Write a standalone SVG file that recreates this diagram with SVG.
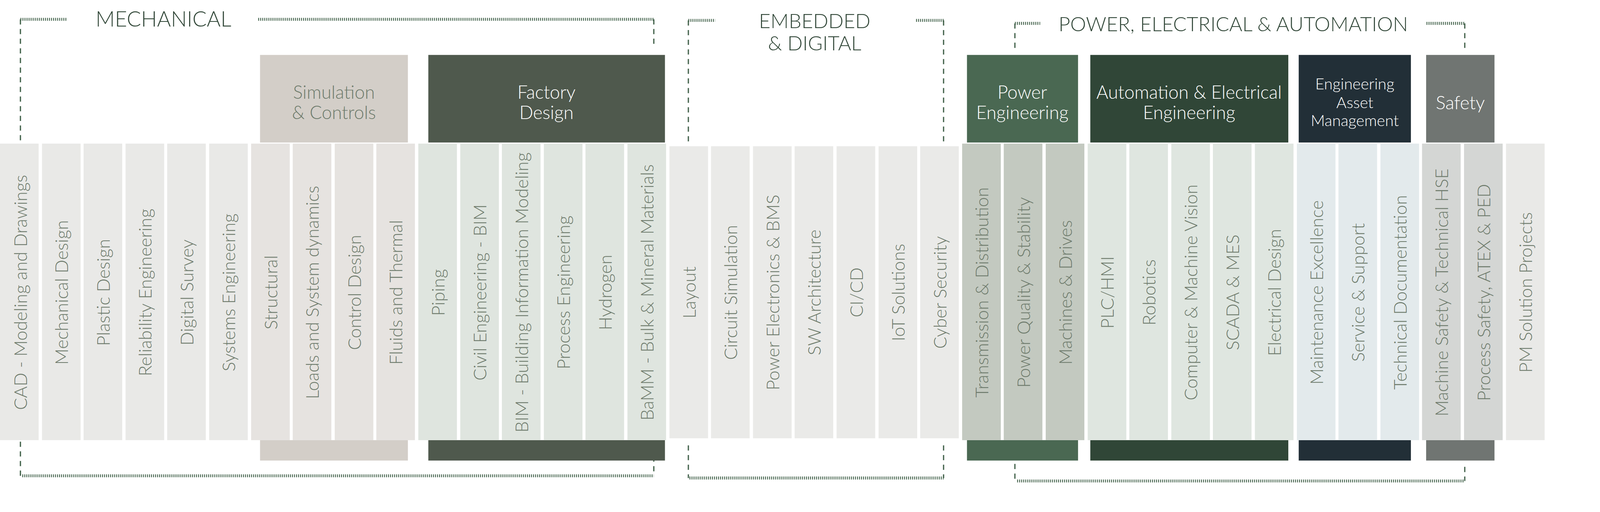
<svg xmlns="http://www.w3.org/2000/svg" width="4262" height="1312" viewBox="0 0 4262 1312">
<style>
.t{font-family:Lato,"Open Sans","Liberation Sans",sans-serif;font-weight:300}
.lbl{font-size:48px;fill:#6d7a6b;text-anchor:middle;dominant-baseline:central}
.hd{font-size:49px;fill:#fff;text-anchor:middle;dominant-baseline:central}
.sec{font-size:54px;fill:#304637;text-anchor:middle;dominant-baseline:central}
.comb{stroke:#4a6852;stroke-width:8;stroke-dasharray:2.5 3;fill:none}
.dash{stroke:#4a6852;stroke-width:3.5;stroke-dasharray:14 12;fill:none}
.mech{fill:#e9e9e7}.sim{fill:#e6e3e0}.fac{fill:#dfe5df}.emb{fill:#eaeae8}.pow{fill:#c3c9c0}.aut{fill:#dfe6e0}.eam{fill:#e3eaec}.saf{fill:#d4d6d4}
</style>
<g transform="scale(0.951)">
<g id="connectors">
<path class="comb" d="M55 52H181M695 52H1760"/>
<path class="dash" d="M55 52V387M1760 52V129"/>
<path class="comb" d="M1853 55H1925M2466 55H2540"/>
<path class="dash" d="M1853 55V387M2540 55V387"/>
<path class="comb" d="M2732 63H2800M3840 63H3943"/>
<path class="dash" d="M2732 63V135M3943 63V135"/>
<path class="comb" d="M60 1282H1760M1856 1288H2540M2738 1296H3940"/>
<path class="dash" d="M55 1190V1282M1760 1230V1282M1853 1200V1288M2540 1200V1288M2732 1250V1296M3943 1258V1296"/>
</g>
<g id="sections" class="t">
<text class="sec" x="440" y="50" style="font-size:57px">MECHANICAL</text>
<text class="sec" x="2193" y="55">EMBEDDED</text>
<text class="sec" x="2193" y="115">&amp; DIGITAL</text>
<text class="sec" x="3320" y="63">POWER, ELECTRICAL &amp; AUTOMATION</text>
</g>
<g id="sim"><rect x="700" y="148" width="398" height="236" fill="#d3cec8"/><rect x="700" y="1186" width="398" height="55" fill="#d3cec8"/>
<text class="t hd" x="899" y="247" style="fill:#6d7a6b">Simulation</text><text class="t hd" x="899" y="302" style="fill:#6d7a6b">&amp; Controls</text></g>
<g id="factory"><rect x="1153" y="148" width="637" height="236" fill="#4f594d"/><rect x="1153" y="1186" width="637" height="55" fill="#4f594d"/>
<text class="t hd" x="1471" y="247">Factory</text><text class="t hd" x="1471" y="302">Design</text></g>
<g id="power"><rect x="2603" y="148" width="299" height="236" fill="#4a6852"/><rect x="2603" y="1186" width="299" height="55" fill="#4a6852"/>
<text class="t hd" x="2752" y="247">Power</text><text class="t hd" x="2752" y="302">Engineering</text></g>
<g id="automation"><rect x="2935" y="148" width="533" height="236" fill="#304637"/><rect x="2935" y="1186" width="533" height="55" fill="#304637"/>
<text class="t hd" x="3201" y="247">Automation &amp; Electrical</text><text class="t hd" x="3201" y="302">Engineering</text></g>
<g id="eam"><rect x="3496" y="148" width="302" height="236" fill="#222f37"/><rect x="3496" y="1186" width="302" height="55" fill="#222f37"/>
<text class="t hd" x="3647" y="225" style="font-size:42px">Engineering</text><text class="t hd" x="3647" y="275" style="font-size:42px">Asset</text><text class="t hd" x="3647" y="324" style="font-size:42px">Management</text></g>
<g id="safety"><rect x="3839" y="148" width="184" height="236" fill="#707572"/><rect x="3839" y="1186" width="184" height="55" fill="#707572"/>
<text class="t hd" x="3931" y="275">Safety</text></g>
<g id="strips" class="t">
<g id="c0"><rect class="mech" x="0" y="387" width="104" height="799"/><text class="lbl" transform="translate(54 788) rotate(-90)">CAD - Modeling and Drawings</text></g>
<g id="c1"><rect class="mech" x="113" y="387" width="104" height="799"/><text class="lbl" transform="translate(165 788) rotate(-90)">Mechanical Design</text></g>
<g id="c2"><rect class="mech" x="225" y="387" width="104" height="799"/><text class="lbl" transform="translate(277 788) rotate(-90)">Plastic Design</text></g>
<g id="c3"><rect class="mech" x="338" y="387" width="104" height="799"/><text class="lbl" transform="translate(390 788) rotate(-90)">Reliability Engineering</text></g>
<g id="c4"><rect class="mech" x="450" y="387" width="104" height="799"/><text class="lbl" transform="translate(502 788) rotate(-90)">Digital Survey</text></g>
<g id="c5"><rect class="mech" x="563" y="387" width="104" height="799"/><text class="lbl" transform="translate(615 788) rotate(-90)">Systems Engineering</text></g>
<g id="c6"><rect class="sim" x="676" y="387" width="104" height="799"/><text class="lbl" transform="translate(728 788) rotate(-90)">Structural</text></g>
<g id="c7"><rect class="sim" x="788" y="387" width="104" height="799"/><text class="lbl" transform="translate(840 788) rotate(-90)">Loads and System dynamics</text></g>
<g id="c8"><rect class="sim" x="901" y="387" width="104" height="799"/><text class="lbl" transform="translate(953 788) rotate(-90)">Control Design</text></g>
<g id="c9"><rect class="sim" x="1013" y="387" width="104" height="799"/><text class="lbl" transform="translate(1065 788) rotate(-90)">Fluids and Thermal</text></g>
<g id="c10"><rect class="fac" x="1126" y="387" width="104" height="799"/><text class="lbl" transform="translate(1178 788) rotate(-90)">Piping</text></g>
<g id="c11"><rect class="fac" x="1239" y="387" width="104" height="799"/><text class="lbl" transform="translate(1291 788) rotate(-90)">Civil Engineering - BIM</text></g>
<g id="c12"><rect class="fac" x="1351" y="387" width="104" height="799"/><text class="lbl" transform="translate(1403 788) rotate(-90)">BIM - Building Information Modeling</text></g>
<g id="c13"><rect class="fac" x="1464" y="387" width="104" height="799"/><text class="lbl" transform="translate(1516 788) rotate(-90)">Process Engineering</text></g>
<g id="c14"><rect class="fac" x="1576" y="387" width="104" height="799"/><text class="lbl" transform="translate(1628 788) rotate(-90)">Hydrogen</text></g>
<g id="c15"><rect class="fac" x="1689" y="387" width="104" height="799"/><text class="lbl" transform="translate(1741 788) rotate(-90)">BaMM - Bulk &amp; Mineral Materials</text></g>
<g id="c16"><rect class="emb" x="1802" y="394" width="104" height="787"/><text class="lbl" transform="translate(1854 788) rotate(-90)">Layout</text></g>
<g id="c17"><rect class="emb" x="1914" y="394" width="104" height="787"/><text class="lbl" transform="translate(1966 788) rotate(-90)">Circuit Simulation</text></g>
<g id="c18"><rect class="emb" x="2027" y="394" width="104" height="787"/><text class="lbl" transform="translate(2079 788) rotate(-90)">Power Electronics &amp; BMS</text></g>
<g id="c19"><rect class="emb" x="2139" y="394" width="104" height="787"/><text class="lbl" transform="translate(2191 788) rotate(-90)">SW Architecture</text></g>
<g id="c20"><rect class="emb" x="2252" y="394" width="104" height="787"/><text class="lbl" transform="translate(2304 788) rotate(-90)">CI/CD</text></g>
<g id="c21"><rect class="emb" x="2365" y="394" width="104" height="787"/><text class="lbl" transform="translate(2417 788) rotate(-90)">IoT Solutions</text></g>
<g id="c22"><rect class="emb" x="2477" y="394" width="104" height="787"/><text class="lbl" transform="translate(2529 788) rotate(-90)">Cyber Security</text></g>
<g id="c23"><rect class="pow" x="2590" y="387" width="104" height="799"/><text class="lbl" transform="translate(2642 788) rotate(-90)">Transmission &amp; Distribution</text></g>
<g id="c24"><rect class="pow" x="2702" y="387" width="104" height="799"/><text class="lbl" transform="translate(2754 788) rotate(-90)">Power Quality &amp; Stability</text></g>
<g id="c25"><rect class="pow" x="2815" y="387" width="104" height="799"/><text class="lbl" transform="translate(2867 788) rotate(-90)">Machines &amp; Drives</text></g>
<g id="c26"><rect class="aut" x="2928" y="387" width="104" height="799"/><text class="lbl" transform="translate(2980 788) rotate(-90)">PLC/HMI</text></g>
<g id="c27"><rect class="aut" x="3040" y="387" width="104" height="799"/><text class="lbl" transform="translate(3092 788) rotate(-90)">Robotics</text></g>
<g id="c28"><rect class="aut" x="3153" y="387" width="104" height="799"/><text class="lbl" transform="translate(3205 788) rotate(-90)">Computer &amp; Machine Vision</text></g>
<g id="c29"><rect class="aut" x="3265" y="387" width="104" height="799"/><text class="lbl" transform="translate(3317 788) rotate(-90)">SCADA &amp; MES</text></g>
<g id="c30"><rect class="aut" x="3378" y="387" width="104" height="799"/><text class="lbl" transform="translate(3430 788) rotate(-90)">Electrical Design</text></g>
<g id="c31"><rect class="eam" x="3491" y="387" width="104" height="799"/><text class="lbl" transform="translate(3543 788) rotate(-90)">Maintenance Excellence</text></g>
<g id="c32"><rect class="eam" x="3603" y="387" width="104" height="799"/><text class="lbl" transform="translate(3655 788) rotate(-90)">Service &amp; Support</text></g>
<g id="c33"><rect class="eam" x="3716" y="387" width="104" height="799"/><text class="lbl" transform="translate(3768 788) rotate(-90)">Technical Documentation</text></g>
<g id="c34"><rect class="saf" x="3828" y="387" width="104" height="799"/><text class="lbl" transform="translate(3880 788) rotate(-90)">Machine Safety &amp; Technical HSE</text></g>
<g id="c35"><rect class="saf" x="3941" y="387" width="104" height="799"/><text class="lbl" transform="translate(3993 788) rotate(-90)">Process Safety, ATEX &amp; PED</text></g>
<g id="c36"><rect class="mech" x="4054" y="387" width="104" height="799"/><text class="lbl" transform="translate(4106 788) rotate(-90)">PM Solution Projects</text></g>
</g>
</g>
</svg>
